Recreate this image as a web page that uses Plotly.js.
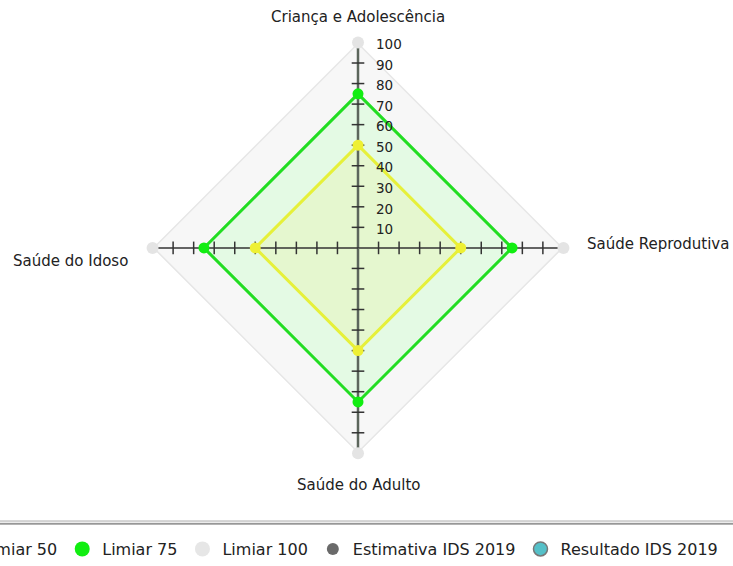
<!DOCTYPE html>
<html>
<head>
<meta charset="utf-8">
<script src="https://cdn.plot.ly/plotly-3.0.1.min.js"></script>
<style>
html,body{margin:0;padding:0;width:733px;height:566px;overflow:hidden;background:#fff;}
#chart{position:absolute;left:-84px;top:0;width:900px;height:566px;}
</style>
</head>
<body>
<div id="chart"></div>
<script>
// ---- data ----
const categories = ['Criança e Adolescência', 'Saúde Reprodutiva', 'Saúde do Adulto', 'Saúde do Idoso'];
const limiar50  = [50, 50, 50, 50];
const limiar75  = [75, 75, 75, 75];
const limiar100 = [100, 100, 100, 100];
const estimativa2019 = [0, 0, 0, 0];
const resultado2019  = [0, 0, 0, 0];
const radialTicks = [10, 20, 30, 40, 50, 60, 70, 80, 90, 100];
const axisTicks = [10, 20, 30, 40, 50, 60, 70, 80, 90];
const seriesNames = ['Limiar 50', 'Limiar 75', 'Limiar 100', 'Estimativa IDS 2019', 'Resultado IDS 2019'];

const close = a => a.concat([a[0]]);
const thetaC = close(categories);
const FONT = 'DejaVu Sans, Liberation Sans, sans-serif';

const traces = [];
// filled polygons
function poly(vals, line, fill) {
  traces.push({type:'scatterpolar', r: close(vals), theta: thetaC, mode:'lines',
    fill:'toself', fillcolor: fill, line:{color: line, width: 3}, showlegend:false, hoverinfo:'skip'});
}
poly(limiar100, '#e6e6e6', '#f7f7f7');
poly(limiar75, '#22dd22', '#e4fae4');
poly(limiar50, '#e6f03a', '#e5f7cf');

// axis spokes
categories.forEach((c, i) => {
  const vertical = (i % 2 === 0);
  traces.push({type:'scatterpolar', r:[0, radialTicks[radialTicks.length-1]], theta:[c, c], mode:'lines',
    line:{color: vertical ? '#5c665c' : '#333333', width: vertical ? 2.5 : 1.5}, showlegend:false, hoverinfo:'skip'});
});
// axis tick crosses
categories.forEach((c, i) => {
  const vertical = (i % 2 === 0);
  traces.push({type:'scatterpolar', r: axisTicks, theta: axisTicks.map(() => c), mode:'markers',
    marker:{symbol: vertical ? 'line-ew' : 'line-ns', size: 9, line:{color:'#333333', width:1.5}},
    showlegend:false, hoverinfo:'skip'});
});
// vertex markers
function verts(vals, color, size) {
  traces.push({type:'scatterpolar', r: vals, theta: categories, mode:'markers',
    marker:{color: color, size: size}, showlegend:false, hoverinfo:'skip'});
}
verts(limiar100, '#e4e4e4', 12);
verts(limiar75, '#11ee11', 11);
verts(limiar50, '#eef034', 11);
// centre points
traces.push({type:'scatterpolar', r: estimativa2019, theta: categories, mode:'markers',
  marker:{color:'#6e7272', size:13}, showlegend:false, hoverinfo:'skip'});
traces.push({type:'scatterpolar', r: resultado2019, theta: categories, mode:'markers',
  marker:{symbol:'line-ew', size:7, line:{color:'#4fbcc4', width:1.5}}, showlegend:false, hoverinfo:'skip'});

// legend entries
const legendColors = ['#eef034', '#11ee11', '#e6e6e6', '#6a6a6a', '#55c0c8'];
const legendSizes = [15, 15, 15, 12, 14];
seriesNames.forEach((n, i) => {
  traces.push({type:'scatterpolar', r:[null], theta:[null], mode:'markers', name: n,
    marker:{color: legendColors[i], size: legendSizes[i],
      line: i === 4 ? {color:'#777', width:1.5} : {width:0}},
    showlegend:true, legendrank: i + 1});
});

const W = 900, H = 566, OFF = 84;
const px = x => (x + OFF) / W;
const py = y => (H - y) / H;

const layout = {
  width: W, height: H,
  margin:{l:0, r:0, t:0, b:0, pad:0},
  paper_bgcolor:'#fff',
  font:{family: FONT, color:'#222', size:15},
  showlegend: true,
  legend:{orientation:'h', x: px(-58), xanchor:'left', y: py(556), yanchor:'middle',
    font:{family: FONT, size:16, color:'#222'}, bgcolor:'rgba(0,0,0,0)', traceorder:'normal'},
  polar:{
    domain:{x:[px(150), px(566)], y:[py(459), py(43)]},
    bgcolor:'rgba(0,0,0,0)',
    gridshape:'linear',
    radialaxis:{range:[0, 100], angle:90, tickvals: radialTicks, ticktext: radialTicks.map(String),
      showgrid:false, showline:false, ticks:'outside', ticklen:8, tickcolor:'rgba(0,0,0,0)',
      tickfont:{family: FONT, size:13.5, color:'#222'}},
    angularaxis:{type:'category', categoryarray: categories, rotation:90, direction:'clockwise',
      showgrid:false, showline:false, showticklabels:false, ticks:''}
  },
  annotations:[
    {text: categories[0], xref:'paper', yref:'paper', x: px(358), y: py(17.5), xanchor:'center', yanchor:'middle', showarrow:false},
    {text: categories[1], xref:'paper', yref:'paper', x: px(585), y: py(247.5), xanchor:'left', yanchor:'middle', showarrow:false},
    {text: categories[2], xref:'paper', yref:'paper', x: px(358), y: py(491.5), xanchor:'center', yanchor:'middle', showarrow:false},
    {text: categories[3], xref:'paper', yref:'paper', x: px(130), y: py(264), xanchor:'right', yanchor:'middle', showarrow:false}
  ],
  shapes:[
    {type:'rect', xref:'paper', yref:'paper', x0:0, x1:1, y0: py(530.5), y1: py(527.5), line:{width:0}, fillcolor:'#ececec', layer:'below'},
    {type:'line', xref:'paper', yref:'paper', x0:0, x1:1, y0: py(527.5), y1: py(527.5), line:{color:'#b4b4b4', width:1}},
    {type:'line', xref:'paper', yref:'paper', x0:0, x1:1, y0: py(530.5), y1: py(530.5), line:{color:'#555555', width:1}}
  ]
};

Plotly.newPlot('chart', traces, layout, {displayModeBar:false, staticPlot:true});
</script>
</body>
</html>
